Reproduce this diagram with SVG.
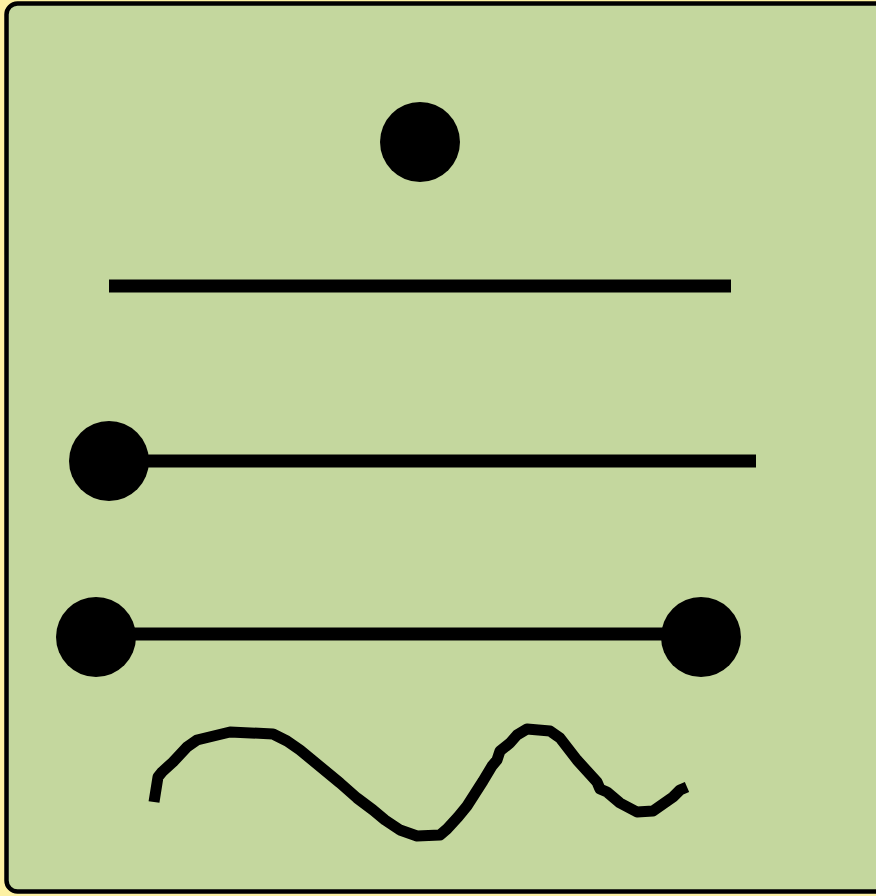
<svg xmlns="http://www.w3.org/2000/svg" width="876" height="896" viewBox="0 0 876 896">
<style>
.ln{stroke:#000;stroke-width:13;fill:none}
.dot{fill:#000}
</style>
<rect x="0" y="0" width="876" height="896" fill="#fdf1a3"/>
<g id="frame"><rect x="6.5" y="3.5" width="890" height="888" rx="11" fill="#c4d79e" stroke="#000" stroke-width="4.5"/></g>
<g id="point"><circle class="dot" cx="420" cy="142" r="40"/></g>
<g id="line"><line class="ln" x1="109" y1="286" x2="731" y2="286" stroke-width="14"/></g>
<g id="ray"><line class="ln" x1="109" y1="461" x2="756" y2="461"/><circle class="dot" cx="109" cy="461" r="40"/></g>
<g id="segment"><line class="ln" x1="96" y1="634" x2="701" y2="634"/><circle class="dot" cx="96" cy="637" r="40"/><circle class="dot" cx="701" cy="637" r="40"/></g>
<g id="curve"><path fill="none" stroke="#000" stroke-width="11" stroke-linejoin="round" d="M154,802 L158,777 L162,772 L173,762 L187,747 L197,740 L230,732 L273,734 L287,741 L300,750 L340,783 L357,798 L373,810 L385,820 L400,830 L417,836 L440,835 L447,829 L458,817 L467,806 L483,781 L492,766 L497,760 L500,751 L510,743 L517,735 L527,729 L550,731 L560,738 L577,760 L597,782 L600,789 L607,792 L620,803 L637,812 L653,811 L673,797 L680,790 L687,787"/></g>
</svg>
